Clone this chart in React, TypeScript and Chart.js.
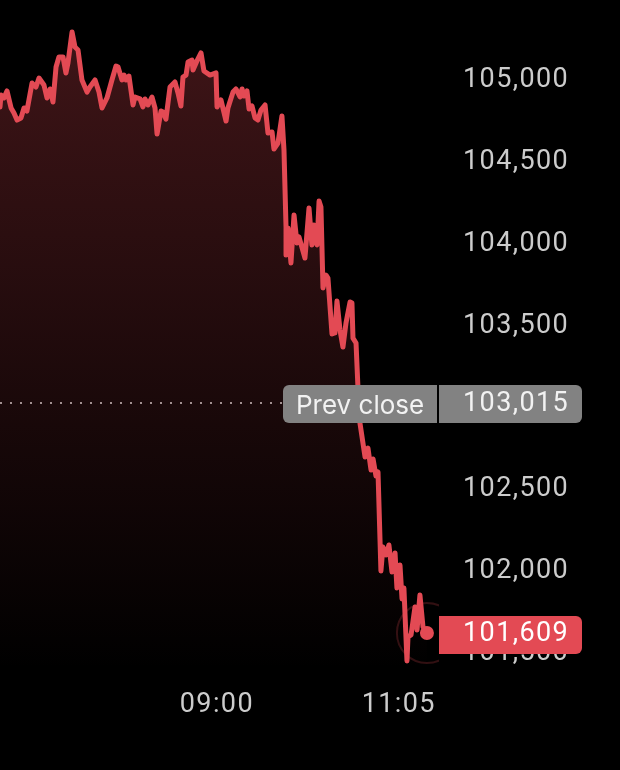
import { useEffect, useRef } from 'react'
import { Chart, registerables } from 'chart.js'

Chart.register(...registerables)

// minutes after midnight
const times = [
  391.0, 391.7, 393.7, 395.8, 398.6, 400.6, 402.7, 405.4, 407.5, 409.5, 413.0, 415.7, 417.8, 421.2, 423.3, 425.4,
  427.4, 429.5, 431.5, 434.3, 436.3, 437.7, 440.5, 442.5, 444.6, 447.3, 450.8, 452.8, 456.3, 459.0, 461.1, 464.5,
  467.9, 470.7, 472.1, 474.8, 476.2, 477.6, 479.6, 482.4, 483.7, 487.2, 489.2, 490.6, 492.7, 495.4, 497.5, 498.9,
  501.6, 503.0, 505.0, 507.8, 511.2, 513.3, 515.3, 516.7, 518.8, 520.2, 522.9, 523.6, 526.3, 529.1, 531.1, 535.3,
  539.4, 540.1, 542.8, 546.3, 547.6, 551.1, 553.1, 555.9, 557.3, 558.6, 560.7, 562.1, 564.1, 566.2, 568.2, 570.3,
  573.1, 575.1, 577.9, 579.2, 582.0, 584.7, 586.1, 587.5, 587.5, 588.9, 590.9, 593.0, 595.0, 596.4, 600.5, 603.3,
  605.3, 606.7, 608.8, 610.2, 611.5, 612.9, 615.0, 616.3, 619.1, 621.1, 622.5, 624.6, 626.6, 628.7, 631.5, 632.8,
  633.5, 635.6, 636.9, 638.3, 641.8, 643.8, 645.9, 647.3, 649.3, 650.7, 652.7, 654.1, 656.2, 658.2, 660.3, 662.4,
  663.7, 665.8, 667.2, 668.5, 670.6, 671.3, 673.4, 676.1, 677.5, 679.5, 681.6, 684.3,
]

const prices = [
  104823, 104896, 104878, 104921, 104817, 104786, 104743, 104756, 104817, 104798, 104969, 104945, 105000, 104957, 104878, 104933,
  104853, 105067, 105128, 105128, 105031, 105092, 105281, 105189, 105171, 104988, 104914, 104945, 104988, 104914, 104817, 104878,
  104988, 105073, 105067, 104988, 105018, 104988, 105012, 104835, 104884, 104872, 104823, 104872, 104835, 104884, 104817, 104658,
  104798, 104792, 104749, 104945, 104976, 104908, 104829, 105006, 105018, 105098, 105110, 105049, 105104, 105153, 105043, 105018,
  105031, 104823, 104866, 104737, 104817, 104914, 104933, 104884, 104933, 104890, 104921, 104811, 104829, 104756, 104743, 104804,
  104835, 104664, 104670, 104566, 104603, 104768, 104560, 104090, 103918, 104084, 103870, 104163, 103992, 104029, 103900, 104206,
  103980, 104102, 103980, 104248, 104212, 103717, 103796, 103778, 103436, 103442, 103637, 103460, 103356, 103503, 103631, 103625,
  103411, 103381, 103112, 102892, 102684, 102739, 102605, 102672, 102568, 102593, 101988, 102134, 102086, 102147, 101982, 102098,
  101884, 102024, 101817, 101884, 101438, 101585, 101597, 101768, 101627, 101841, 101646, 101609,
]

const priceTicks = [101500, 102000, 102500, 103500, 104000, 104500, 105000]
const timeTicks = [540, 665]
const timeLabels: Record<number, string> = { 540: '09:00', 665: '11:05' }
const prevClose = 103015
const prevCloseEnd = 585
const lastPrice = 101609
const lastTime = 684.3

const RED = '#e34a54'
const NUM_FONT = 'Roboto'
const NUM_SPACING = '1.4px'

const tagsPlugin = {
  id: 'tags',
  afterLayout(chart: any) {
    // nudge the price labels down a little, Chart.js has no option for this
    const y = chart.scales.y
    y.getLabelItems().forEach((item: any) => {
      item.options.translation[1] += 2.5
    })
  },
  beforeDraw(chart: any) {
    chart.ctx.letterSpacing = NUM_SPACING
  },
  afterDraw(chart: any) {
    const { ctx } = chart
    const y = chart.scales.y
    const py = Math.round(y.getPixelForValue(prevClose))
    const ly = Math.round(y.getPixelForValue(lastPrice)) + 1
    ctx.save()
    ctx.textBaseline = 'middle'
    ctx.textAlign = 'left'

    ctx.fillStyle = '#828282'
    ctx.beginPath()
    ctx.roundRect(283, py - 18, 154, 38, [6, 0, 0, 6])
    ctx.fill()
    ctx.beginPath()
    ctx.roundRect(439, py - 18, 143, 38, [0, 6, 6, 0])
    ctx.fill()
    ctx.fillStyle = '#f2f2f2'
    ctx.letterSpacing = '0px'
    ctx.font = '26px Inter'
    ctx.fillText('Prev close', 296, py + 3)
    ctx.letterSpacing = NUM_SPACING
    ctx.font = `27px ${NUM_FONT}`
    ctx.fillText(prevClose.toLocaleString('en-US'), 463, py + 1)

    ctx.fillStyle = RED
    ctx.beginPath()
    ctx.roundRect(439, ly - 18, 143, 38, [0, 6, 6, 0])
    ctx.fill()
    ctx.fillStyle = '#ffffff'
    ctx.fillText(lastPrice.toLocaleString('en-US'), 463, ly)
    ctx.restore()
  },
}

export default function App() {
  const chartRef = useRef<HTMLCanvasElement>(null)

  useEffect(() => {
    if (!chartRef.current) return

    const chart = new Chart(chartRef.current, {
      type: 'line',
      data: {
        datasets: [
          {
            label: 'Last',
            data: [{ x: lastTime, y: lastPrice }],
            showLine: false,
            pointRadius: 7,
            pointBackgroundColor: RED,
            pointBorderWidth: 0,
          },
          {
            label: 'Halo',
            data: [{ x: lastTime, y: lastPrice }],
            showLine: false,
            pointRadius: 30,
            pointBackgroundColor: 'transparent',
            pointBorderColor: 'rgba(227, 74, 84, 0.22)',
            pointBorderWidth: 2,
          },
          {
            label: 'Price',
            data: times.map((t, i) => ({ x: t, y: prices[i] })),
            borderColor: RED,
            borderWidth: 5,
            borderJoinStyle: 'round',
            borderCapStyle: 'round',
            tension: 0,
            pointRadius: 0,
            fill: 'start',
            backgroundColor: (context: any) => {
              const area = context.chart.chartArea
              if (!area) return 'transparent'
              const g = context.chart.ctx.createLinearGradient(0, 30, 0, area.bottom)
              g.addColorStop(0, 'rgba(227, 74, 84, 0.28)')
              g.addColorStop(1, 'rgba(227, 74, 84, 0)')
              return g
            },
          },
          {
            label: 'Prev close',
            data: [
              { x: times[0], y: prevClose },
              { x: prevCloseEnd, y: prevClose },
            ],
            borderColor: '#9a9a9a',
            borderWidth: 2,
            borderDash: [2, 8],
            pointRadius: 0,
            fill: false,
          },
        ],
      },
      options: {
        responsive: false,
        animation: false,
        layout: { padding: 0, autoPadding: false },
        plugins: { legend: { display: false }, tooltip: { enabled: false } },
        scales: {
          x: {
            type: 'linear',
            min: 391,
            max: 692.6,
            grid: { display: false, drawTicks: false },
            border: { display: false },
            afterFit: (scale: any) => {
              scale.height = 100
              scale.paddingLeft = 0
              scale.paddingRight = 0
              scale.paddingTop = 0
              scale.paddingBottom = 0
            },
            afterBuildTicks: (scale: any) => {
              scale.ticks = timeTicks.map((value) => ({ value }))
            },
            ticks: {
              autoSkip: false,
              maxRotation: 0,
              padding: 19,
              color: '#cccccc',
              font: { family: NUM_FONT, size: 27 },
              callback: (v: any) => timeLabels[v],
            },
          },
          y: {
            type: 'linear',
            position: 'right',
            min: 101383,
            max: 105476.6,
            grid: { display: false, drawTicks: false },
            border: { display: false },
            afterFit: (scale: any) => {
              scale.width = 181
              scale.paddingLeft = 0
              scale.paddingRight = 0
              scale.paddingTop = 0
              scale.paddingBottom = 0
            },
            afterBuildTicks: (scale: any) => {
              scale.ticks = priceTicks.map((value) => ({ value }))
            },
            ticks: {
              padding: 24,
              color: '#cccccc',
              font: { family: NUM_FONT, size: 27 },
              callback: (v: any) => Number(v).toLocaleString('en-US'),
            },
          },
        },
      },
      plugins: [tagsPlugin],
    })

    return () => chart.destroy()
  }, [])

  return (
    <div style={{ position: 'fixed', inset: 0, background: '#000' }}>
      <canvas ref={chartRef} width={620} height={770} style={{ display: 'block' }} />
    </div>
  )
}
